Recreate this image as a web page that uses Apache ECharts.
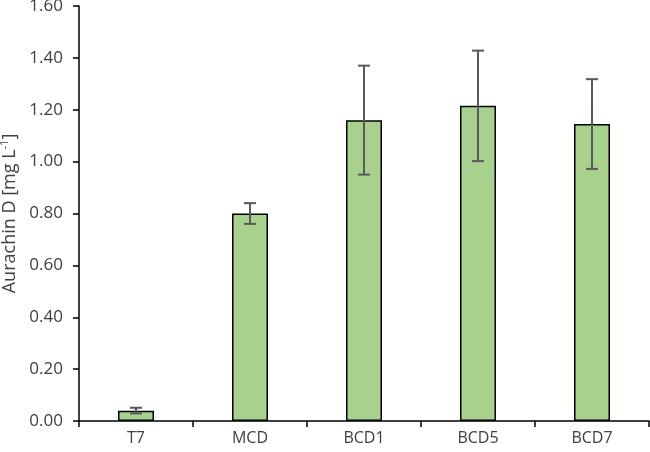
<!DOCTYPE html>
<html>
<head>
<meta charset="utf-8">
<script src="https://cdn.jsdelivr.net/npm/echarts@6/dist/echarts.min.js"></script>
<style>
  html, body { margin: 0; padding: 0; background: #fff; }
  #chart { width: 650px; height: 452px; }
</style>
</head>
<body>
<div id="chart"></div>
<script>
// 样品
var categories = ['T7', 'MCD', 'BCD1', 'BCD5', 'BCD7'];
// 平均值
var means = [0.04, 0.80, 1.16, 1.215, 1.145];
// 标准差
var errors = [0.011, 0.04, 0.21, 0.213, 0.173];
var yTicks = { min: 0, max: 1.6, interval: 0.2 };

var errorData = categories.map(function (c, i) {
  return [i, means[i] - errors[i], means[i] + errors[i]];
});

var chart = echarts.init(document.getElementById('chart'));
chart.setOption({
  animation: false,
  grid: { left: 79, right: 1, top: 6, bottom: 31, outerBoundsMode: 'none', containLabel: false },
  xAxis: {
    type: 'category',
    data: categories,
    axisLine: { lineStyle: { color: '#000', width: 1.5 } },
    axisTick: { show: true, length: 6, lineStyle: { color: '#000', width: 1.5 } },
    axisLabel: { color: '#404040', fontSize: 16, fontFamily: 'Open Sans', margin: 9 }
  },
  yAxis: {
    type: 'value',
    min: yTicks.min,
    max: yTicks.max,
    interval: yTicks.interval,
    splitLine: { show: false },
    axisLine: { show: true, lineStyle: { color: '#000', width: 1.5 } },
    axisTick: { show: true, length: 6, lineStyle: { color: '#000', width: 1.5 } },
    axisLabel: {
      color: '#404040', fontSize: 17, fontFamily: 'Open Sans', margin: 16,
      formatter: function (v) { return v.toFixed(2); }
    },
    name: '{a|Aurachin D [mg L}{s|-1}{a|]}',
    nameLocation: 'middle',
    nameGap: 58,
    nameTextStyle: {
      rich: {
        a: { fontSize: 18, color: '#404040', fontFamily: 'Open Sans' },
        s: { fontSize: 11, color: '#404040', fontFamily: 'Open Sans', verticalAlign: 'top', padding: [0, 0, 9, 0] }
      }
    }
  },
  series: [
    {
      type: 'bar',
      data: means,
      barWidth: 36,
      itemStyle: { color: '#a9d18e', borderColor: '#000', borderWidth: 1.5 }
    },
    {
      type: 'custom',
      data: errorData,
      z: 10,
      renderItem: function (params, api) {
        var x = api.value(0);
        var lo = api.coord([x, api.value(1)]);
        var hi = api.coord([x, api.value(2)]);
        var cap = 6;
        var style = { stroke: '#595959', lineWidth: 2 };
        return {
          type: 'group',
          children: [
            { type: 'line', shape: { x1: hi[0], y1: hi[1], x2: lo[0], y2: lo[1] }, style: style },
            { type: 'line', shape: { x1: hi[0] - cap, y1: hi[1], x2: hi[0] + cap, y2: hi[1] }, style: style },
            { type: 'line', shape: { x1: lo[0] - cap, y1: lo[1], x2: lo[0] + cap, y2: lo[1] }, style: style }
          ]
        };
      }
    }
  ]
});
</script>
</body>
</html>
